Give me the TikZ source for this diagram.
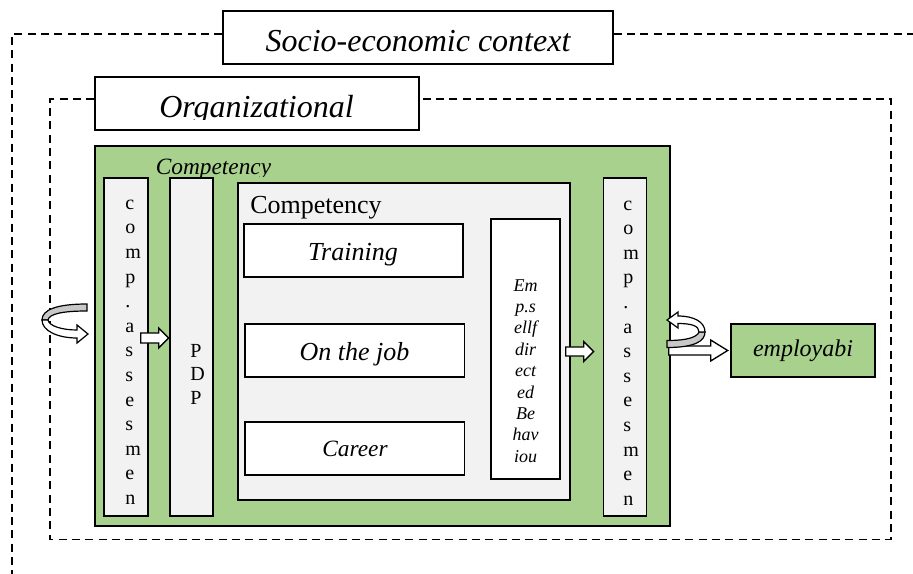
\documentclass[tikz,border=0pt]{standalone}
\usepackage{fontspec}
\setmainfont{Liberation Serif}
\usetikzlibrary{fit,calc}
\definecolor{leaf}{HTML}{A9D18E}
\definecolor{pale}{HTML}{F2F2F2}
\definecolor{ribbon}{HTML}{C8C8C8}

\begin{document}
\begin{tikzpicture}[x=0.75pt,y=-0.75pt,
  framebox/.style={draw=black, line width=1pt, inner sep=0pt},
  whitebox/.style={framebox, fill=white},
  palebox/.style={framebox, fill=pale},
  leafbox/.style={framebox, fill=leaf},
  frameline/.style={draw=black, line width=1pt, dash pattern=on 6pt off 4pt},
  lbl/.style={anchor=base, inner sep=0pt},
  blockarrow/.style={draw=black, fill=white, line width=1pt, line join=miter},
  curlback/.style={draw=black, fill=ribbon, line width=0.9pt},
  curlfront/.style={draw=black, fill=white, line width=0.9pt, line join=miter},
  bigit/.style={font=\fontsize{24}{28}\selectfont\itshape},
  midit/.style={font=\fontsize{19.5}{23}\selectfont\itshape},
  letter/.style={anchor=base west, inner sep=0pt, font=\fontsize{15}{18}\selectfont},
  smallit/.style={anchor=base, inner sep=0pt, font=\fontsize{13.5}{16}\selectfont\itshape}
]
\useasboundingbox (0,0) rectangle (913,574);

% ---- context frames and their title boxes
\node[whitebox, fit={(223,11) (613,64)}] (socio) {};
\node[lbl, bigit] (sociotext) at (418,52) {Socio-economic context};
\coordinate (ocorner) at (12,34);
\draw[frameline] (socio.west |- ocorner) -- (ocorner) -- (12,580);
\draw[frameline] (socio.east |- ocorner) -- (920,34);

\node[whitebox, fit={(95,77) (419,130)}] (org) {};
\begin{scope}
  \clip (96,78) rectangle (418,119.5);
  \node[lbl, bigit] (orgtext) at (256.5,118) {Organizational};
\end{scope}
\coordinate (icorner) at (50,99);
\draw[frameline] (org.west |- icorner) -- (icorner) -- (50,539.5)
  -- (891,539.5) -- (891,99) -- (org.east |- icorner);

% ---- competency block
\node[leafbox, line width=1.2pt, fit={(95,146) (670,526)}] (green) {};
\begin{scope}
  \clip (100,150) rectangle (400,176);
  \node[lbl, font=\fontsize{17.5}{21}\selectfont\itshape] (greentitle) at (213.5,175) {Competency};
\end{scope}

\node[palebox, fit={(104,178) (148,516)}] (lcomp) {};
\node[palebox, fit={(170,178) (213,516)}] (pdp) {};
\node[palebox, fit={(238,183) (570,500)}] (inner) {};
\node[palebox, fit={(603.5,178) (646.5,516)}] (rcomp) {};

\foreach \ch [count=\i from 0] in {c,o,m,p,.,a,s,s,e,s,m,e,n} {
  \node[letter] (lc\i) at (125,209.3+24.6*\i) {\ch};
  \node[letter] (rc\i) at (623,210+24.6*\i) {\ch};
}
\foreach \ch [count=\i from 0] in {P,D,P}
  \node[letter] (pdp\i) at (190,357+23.8*\i) {\ch};

\node[lbl, anchor=base west, font=\fontsize{19.5}{23}\selectfont] (innertitle) at (250,213) {Competency};

\node[whitebox, fit={(244,224) (463,277)}] (training) {};
\node[lbl, midit] (trainingtext) at (353,260) {Training};
\node[whitebox, fit={(245,324) (464.5,377)}] (onjob) {};
\node[lbl, midit] (onjobtext) at (354.5,360) {On the job};
\node[whitebox, fit={(245,422) (464.5,475)}] (career) {};
\node[lbl, font=\fontsize{17.5}{21}\selectfont\itshape] (careertext) at (355,456) {Career};

\node[whitebox, fit={(491,219) (560,479)}] (emp) {};
\foreach \t [count=\i from 0] in {Em,p.s,ellf,dir,ect,ed,Be,hav,iou}
  \node[smallit] (emp\i) at (525.5,291+21.4*\i) {\t};

\node[leafbox, fit={(731,324) (875,377)}] (employ) {};
\node[lbl, font=\fontsize{18}{21}\selectfont\itshape] (employtext) at (803,356) {employabi};

% ---- block arrows
\draw[blockarrow] ($(lcomp.east)+(-8,-14)$) -- ++(18,0) -- ++(0,-5) -- ++(10,10)
  -- ++(-10,10) -- ++(0,-5) -- ++(-18,0) -- cycle;
\draw[blockarrow] ($(emp.east)+(5,-2)$) -- ++(18,0) -- ++(0,-5.5) -- ++(10,10)
  -- ++(-10,10) -- ++(0,-5.5) -- ++(-18,0) -- cycle;
\draw[blockarrow] ($(rcomp.east)+(21.5,-1)$) -- ++(42,0) -- ++(0,-6) -- ++(17,10.5)
  -- ++(-17,10.5) -- ++(0,-6) -- ++(-42,0) -- cycle;

% ---- curled arrow entering on the left
\draw[curlback] (87,304) .. controls (56,304) and (42,310) .. (42,320)
  -- (48,320) .. controls (49,314) and (62,311) .. (87,311) -- cycle;
\draw[curlfront] (42,320) .. controls (42,331) and (58,338) .. (77,338)
  -- (77,343) -- (88,334) -- (77,325) -- (77,330)
  .. controls (62,330) and (49,326) .. (48,320) -- cycle;

% ---- curled arrow leaving on the right
\draw[curlback] (667,347.5) .. controls (695,347.5) and (705,341) .. (705,332)
  -- (699,332) .. controls (697,337) and (688,340.5) .. (667,340.5) -- cycle;
\draw[curlfront] (705,332) .. controls (705,322) and (694,316) .. (678,316)
  -- (678,312) -- (667,320) -- (678,328) -- (678,323.5)
  .. controls (692,323.5) and (699,326) .. (699,332) -- cycle;
\end{tikzpicture}
\end{document}
